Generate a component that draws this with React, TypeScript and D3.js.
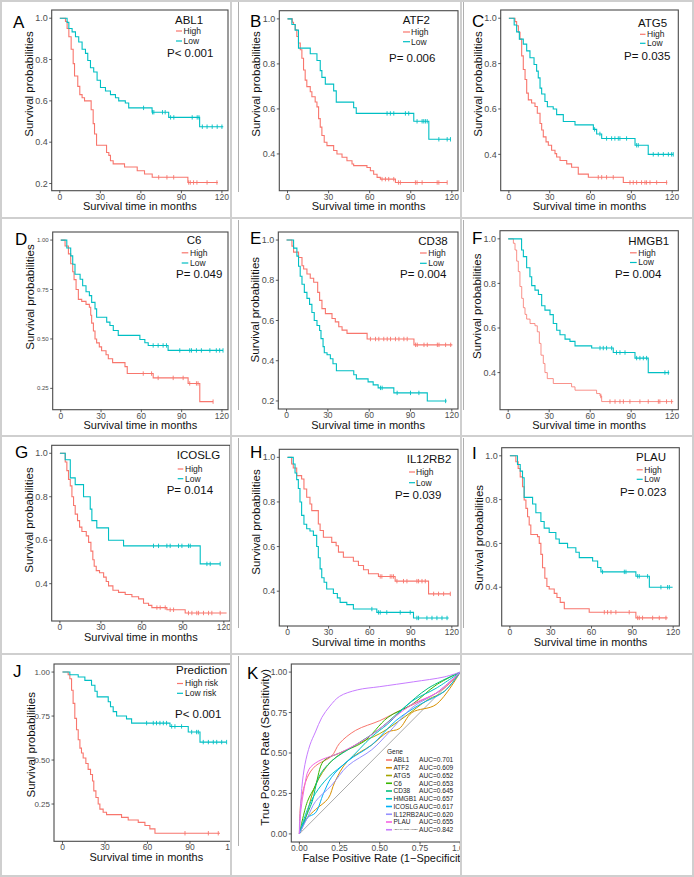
import React from 'react';
import * as d3 from 'd3';

type Pt = [number, number];

const RED = '#F8766D';
const TEAL = '#00BFC4';
const FONT = '"Liberation Sans", Arial, Helvetica, sans-serif';
const kmXTicks = [0, 30, 60, 90, 120];

// ---------- A: ABL1 ----------
const abl1High: Pt[] = [[0,1],[4.2,0.984],[5.4,0.95],[6.7,0.91],[8.4,0.85],[9.9,0.78],[10.9,0.72],[13.3,0.67],[14.8,0.63],[16.5,0.615],[18.3,0.6],[23.2,0.557],[24.7,0.49],[25.7,0.44],[27.2,0.385],[34.6,0.35],[36.3,0.336],[37.5,0.31],[39.5,0.295],[47.9,0.28],[57.3,0.262],[62.7,0.246],[68.4,0.23],[94.8,0.205],[117,0.205]];
const abl1HighCens = [73.2,79.3,84.3,95.4,96.6,99,101.5,109,116.3];
const abl1Low: Pt[] = [[0,1],[5.4,0.98],[6.7,0.95],[9.1,0.934],[11.6,0.91],[14,0.885],[16.5,0.85],[19,0.83],[20.7,0.795],[22.7,0.76],[25.1,0.74],[27.6,0.7],[30.1,0.665],[33.8,0.648],[37.5,0.63],[41.2,0.615],[43.6,0.6],[48.5,0.59],[51,0.566],[68.3,0.545],[80.6,0.52],[103.5,0.475],[121,0.475]];
const abl1LowCens = [62,68.6,69.6,76,78,82,84.4,98,101.7,103,105.5,109,112.8,116.5,120];

// ---------- B: ATF2 ----------
const atf2High: Pt[] = [[0,1],[3.5,0.985],[4.4,0.975],[5.6,0.952],[6.8,0.922],[8,0.893],[9.3,0.863],[10.5,0.825],[11.7,0.773],[12.9,0.728],[14.1,0.699],[16.6,0.676],[17.8,0.654],[20.2,0.631],[21.5,0.609],[22.7,0.557],[23.9,0.519],[25.1,0.482],[26.8,0.452],[28.8,0.437],[33.7,0.415],[36.1,0.4],[39.8,0.385],[43.4,0.37],[47.1,0.355],[48.3,0.348],[58,0.34],[60.5,0.325],[62.9,0.31],[65.4,0.296],[67.8,0.288],[78.8,0.273],[116.6,0.273]];
const atf2HighCens = [69,71.5,73.9,77.6,81,82.4,93.4,94.6,98.3,109.3,110.5,116.6];
const atf2Low: Pt[] = [[0,1],[3.2,0.975],[5.6,0.95],[8,0.87],[16.6,0.845],[21.5,0.815],[23.9,0.77],[25.1,0.74],[27.6,0.71],[33.7,0.68],[35.6,0.63],[48.3,0.605],[50.2,0.58],[92.2,0.545],[103.2,0.465],[119,0.465]];
const atf2LowCens = [72.7,75.1,77.6,86.1,88.5,94.6,98.3,99.5,100.7,102,110.5,116.6,119];

// ---------- C: ATG5 ----------
const atg5High: Pt[] = [[0,1],[4.5,0.985],[5.7,0.967],[7,0.938],[8.2,0.908],[9.4,0.834],[10.6,0.774],[11.9,0.73],[13.1,0.67],[14.3,0.64],[16.7,0.626],[19.2,0.611],[20.9,0.581],[22.9,0.536],[24.1,0.507],[25.3,0.477],[27.3,0.455],[29,0.44],[31.4,0.418],[33.9,0.403],[35.1,0.388],[37.6,0.373],[42.5,0.358],[46.1,0.343],[51,0.313],[58.4,0.299],[84.1,0.276],[116.4,0.276]];
const atg5HighCens = [65.7,68.2,71.8,76.7,89,91.4,93.9,97.5,100,101.2,103.7,108.6,115.9];
const atg5Low: Pt[] = [[0,1],[3.9,0.97],[5.7,0.94],[7.7,0.908],[10.6,0.886],[13.1,0.856],[15.5,0.826],[18.5,0.796],[20.4,0.767],[21.6,0.737],[22.9,0.692],[24.1,0.666],[26.5,0.633],[28.3,0.61],[32.6,0.6],[35.1,0.575],[40,0.545],[48.6,0.53],[62.1,0.51],[64.5,0.49],[68.2,0.47],[92.7,0.44],[102.4,0.4],[120.8,0.4]];
const atg5LowCens = [63,66.9,71.8,75.5,77.9,80.4,81.6,86.5,93.9,95.1,106.1,109.8,113.5,117.2,119.6,120.8];

// ---------- D: C6 ----------
const c6High: Pt[] = [[0,1],[3.2,0.97],[5.7,0.93],[7.4,0.88],[8.9,0.84],[9.9,0.8],[11.4,0.75],[13.1,0.7],[15.6,0.69],[18.8,0.675],[21.3,0.66],[22.3,0.62],[23,0.58],[24.3,0.54],[25.5,0.5],[26.7,0.48],[28.7,0.46],[30.4,0.44],[33.7,0.42],[35.4,0.4],[38.6,0.38],[47.8,0.36],[49.5,0.325],[68.8,0.303],[94.8,0.275],[103.5,0.183],[113.4,0.183]];
const c6HighCens = [61.4,67.6,72.5,83.7,91.1,96,101,102.2,113.4];
const c6Low: Pt[] = [[0,1],[4.5,0.96],[7.4,0.92],[8.9,0.878],[10.6,0.827],[14.4,0.802],[16.3,0.769],[18.8,0.739],[21.3,0.719],[23,0.685],[25.5,0.652],[26.7,0.61],[34.2,0.585],[36.6,0.568],[39.1,0.543],[42.8,0.518],[58.9,0.497],[62.6,0.481],[65.1,0.467],[79.9,0.442],[120.8,0.442]];
const c6LowCens = [68.8,72.5,76.2,78.7,88.6,96,97.3,101,104.7,111,115.8,118.3,120.8];

// ---------- E: CD38 ----------
const cd38High: Pt[] = [[0,1],[3.9,0.97],[5.1,0.94],[8.7,0.913],[11.2,0.872],[12.4,0.856],[14.8,0.831],[17.2,0.81],[19.7,0.79],[22.6,0.74],[24,0.7],[25.7,0.659],[28.2,0.634],[33,0.61],[35.4,0.593],[37.9,0.569],[40.3,0.552],[43.9,0.536],[58.5,0.508],[92.5,0.479],[120.4,0.479]];
const cd38HighCens = [60.9,64.6,67,70.6,73.1,75.5,79.1,81.6,85.2,87.6,93.7,94.9,99.8,102.2,109.5,110.7,115.5,119.2];
const cd38Low: Pt[] = [[0,1],[5.1,0.96],[7.5,0.92],[8.7,0.87],[9.9,0.82],[11.2,0.78],[12.9,0.74],[14.8,0.71],[16.7,0.68],[18.4,0.64],[20.1,0.6],[22.1,0.575],[24,0.55],[25,0.51],[26.5,0.47],[27.4,0.44],[29.4,0.43],[31.8,0.41],[33.7,0.385],[36.2,0.35],[48.8,0.33],[50.7,0.31],[59.2,0.295],[62.9,0.28],[66.5,0.265],[77.9,0.24],[102.2,0.2],[116.3,0.2]];
const cd38LowCens = [68.2,69.4,80.3,90,96.1,115.5];

// ---------- F: HMGB1 ----------
const hmgb1High: Pt[] = [[0,1],[3.8,0.98],[5,0.95],[6.2,0.9],[7.4,0.853],[8.6,0.786],[9.9,0.733],[11.1,0.691],[12.3,0.661],[13.5,0.64],[16,0.62],[19.6,0.61],[21.3,0.583],[22.8,0.531],[24,0.478],[25.7,0.441],[26.9,0.4],[28.6,0.373],[33,0.351],[46.4,0.336],[48.9,0.321],[64.7,0.306],[67.2,0.295],[68.4,0.27],[120.8,0.27]];
const hmgb1HighCens = [67.8,74.5,78.2,81.8,84.3,89.1,96.4,102.5,109.9,111,115.9,119.6];
const hmgb1Low: Pt[] = [[0,1],[9.8,0.95],[11.1,0.92],[13.5,0.87],[15.9,0.83],[17.2,0.79],[19.6,0.77],[22.1,0.75],[24.5,0.7],[26.9,0.68],[30.6,0.66],[33,0.62],[35.5,0.59],[37.9,0.57],[41.6,0.55],[45.2,0.54],[48.9,0.52],[61.1,0.51],[76.9,0.49],[92.8,0.465],[102.5,0.4],[117.9,0.4]];
const hmgb1LowCens = [67.2,69.6,72,75.7,79.3,81.8,85.5,94,96.4,98.9,101.3,114.7,117.2];

// ---------- G: ICOSLG ----------
const icoslgHigh: Pt[] = [[0,1],[3.9,0.96],[5.1,0.92],[6.3,0.88],[7.6,0.85],[8.8,0.8],[10,0.76],[11.2,0.72],[12.9,0.69],[14.4,0.66],[16.1,0.64],[19.3,0.62],[21,0.59],[22.7,0.55],[24.1,0.51],[25.1,0.48],[26.6,0.46],[29,0.45],[32,0.43],[33.9,0.41],[35.6,0.39],[38.8,0.37],[42.9,0.36],[47.8,0.35],[52.7,0.34],[57.6,0.33],[61.2,0.31],[64.9,0.3],[67.3,0.29],[78.3,0.28],[91.7,0.265],[122,0.265]];
const icoslgHighCens = [71,73.4,77.1,80.7,83.2,94.1,96.6,100.2,101.5,105.1,108.8,111.2,117.3];
const icoslgLow: Pt[] = [[0,1],[3.9,0.97],[7.6,0.887],[11.2,0.856],[17.3,0.8],[22.2,0.743],[23.4,0.69],[27,0.657],[35.6,0.6],[46.6,0.574],[102.7,0.491],[117.3,0.491]];
const icoslgLowCens = [68.5,72.2,78.3,80.7,86.8,89.3,94.1,95.4,107.6,110,117.3];

// ---------- H: IL12RB2 ----------
const il12High: Pt[] = [[0,1],[3,0.97],[4.2,0.952],[6.7,0.918],[10.3,0.903],[12,0.858],[14,0.821],[16.4,0.791],[17.7,0.761],[22.5,0.701],[23.8,0.672],[26.2,0.642],[32.3,0.619],[35.5,0.604],[37.2,0.575],[40.8,0.552],[48.1,0.534],[51.8,0.515],[55.5,0.496],[59.1,0.478],[66.4,0.466],[78.6,0.445],[103,0.388],[118.9,0.388]];
const il12HighCens = [67.7,68.9,75,76.2,77.4,79.9,84.7,87.2,94.5,95.7,98.2,100.6,106.7,110.3,114,118.9];
const il12Low: Pt[] = [[0,1],[4.2,0.97],[5.5,0.93],[6.7,0.9],[7.9,0.86],[9.1,0.8],[10.3,0.74],[12,0.7],[14,0.68],[16.4,0.67],[18.9,0.65],[21.3,0.6],[22.5,0.55],[23.8,0.5],[25,0.46],[26.7,0.44],[28.6,0.41],[33.5,0.39],[36.4,0.37],[38.4,0.35],[43.3,0.34],[48.1,0.32],[65.2,0.305],[92,0.28],[117.7,0.28]];
const il12LowCens = [61.6,66.4,67.7,72.5,82.3,89.6,94.5,95.7,101.8,105.5,109.1,112.8,116.5];

// ---------- I: PLAU ----------
const plauHigh: Pt[] = [[0,1],[4.4,0.973],[6.1,0.942],[7.6,0.904],[9.3,0.859],[10.5,0.798],[11.8,0.76],[13,0.722],[14.2,0.684],[15.4,0.641],[20.3,0.631],[21.6,0.6],[22.8,0.55],[24,0.489],[25.7,0.441],[27.2,0.403],[28.9,0.392],[32.6,0.372],[34.6,0.353],[37,0.331],[40,0.302],[58.3,0.286],[92.6,0.26],[115.9,0.26]];
const plauHighCens = [69.4,71.8,74.3,77.9,87.7,93.9,95.1,97.5,104.9,109.8,114.7];
const plauLow: Pt[] = [[0,1],[5.6,0.96],[7.6,0.93],[9.3,0.9],[10.5,0.81],[16.7,0.78],[19.1,0.74],[22.8,0.7],[25.2,0.67],[28.9,0.65],[33.8,0.62],[36.3,0.6],[42.4,0.58],[48.5,0.56],[51,0.535],[60.8,0.52],[64.5,0.49],[66.9,0.47],[92.6,0.45],[102.5,0.4],[119.6,0.4]];
const plauLowCens = [68.1,84.1,85.3,93.9,95.1,101.2,111,115.9,117.2];

// ---------- J: Prediction ----------
const predHigh: Pt[] = [[0,1],[4,0.985],[5.2,0.962],[6.4,0.897],[7.5,0.822],[8.7,0.737],[9.9,0.672],[11.1,0.615],[12.3,0.568],[13.4,0.54],[14.6,0.512],[16.5,0.48],[18.1,0.447],[19.8,0.418],[21.2,0.381],[22.1,0.325],[23.6,0.287],[25.2,0.25],[26.4,0.221],[28.7,0.203],[31.1,0.19],[41.7,0.174],[46.4,0.159],[53.5,0.146],[58.2,0.128],[61.7,0.109],[65.3,0.084],[111.2,0.084]];
const predHighCens = [86.5,103,110];
const predLow: Pt[] = [[0,1],[5.2,0.985],[11.1,0.972],[15.8,0.953],[20.5,0.925],[22.9,0.891],[24.5,0.859],[32.3,0.831],[33.9,0.803],[35.8,0.775],[38.2,0.75],[45.2,0.734],[48.8,0.71],[75.9,0.691],[88.8,0.659],[97.1,0.602],[115.9,0.602]];
const predLowCens = [59.4,64.1,66.4,68.8,71.2,73.5,77.1,79.4,84.1,91.2,94.7,95.9,99.4,103,106.5,108.9,112.4,115.9];

// ---------- K: ROC ----------
const rocGenes = ['ABL1','ATF2','ATG5','C6','CD38','HMGB1','ICOSLG','IL12RB2','PLAU','ABL1+C6+CD38+HMGB1'];
const rocAUC = ['0.701','0.609','0.652','0.653','0.645','0.657','0.617','0.620','0.655','0.842'];
const rocColors = ['#F8766D','#D89000','#A3A500','#39B600','#00BF7D','#00BFC4','#00B0F6','#9590FF','#F564E3','#C77CFF'];
const rocABL1: Pt[] = [[0,0],[0.01,0.2],[0.05,0.35],[0.1,0.42],[0.2,0.48],[0.25,0.56],[0.35,0.64],[0.5,0.7],[0.6,0.75],[0.75,0.82],[0.9,0.9],[1,1]];
const rocATF2: Pt[] = [[0,0],[0.05,0.1],[0.1,0.15],[0.18,0.22],[0.22,0.32],[0.3,0.45],[0.45,0.55],[0.55,0.63],[0.62,0.65],[0.7,0.75],[0.85,0.8],[1,1]];
const rocATG5: Pt[] = [[0,0],[0.04,0.1],[0.1,0.3],[0.2,0.45],[0.35,0.55],[0.5,0.62],[0.65,0.72],[0.8,0.83],[0.9,0.88],[1,1]];
const rocC6: Pt[] = [[0,0],[0.05,0.2],[0.1,0.3],[0.15,0.45],[0.25,0.5],[0.4,0.57],[0.55,0.72],[0.7,0.8],[0.85,0.92],[1,1]];
const rocCD38: Pt[] = [[0,0],[0.03,0.08],[0.08,0.2],[0.12,0.35],[0.2,0.45],[0.35,0.55],[0.5,0.65],[0.65,0.78],[0.8,0.9],[1,1]];
const rocHMGB1: Pt[] = [[0,0],[0.05,0.15],[0.1,0.25],[0.18,0.35],[0.3,0.45],[0.45,0.6],[0.55,0.68],[0.7,0.82],[0.85,0.9],[1,1]];
const rocICOSLG: Pt[] = [[0,0],[0.05,0.1],[0.1,0.13],[0.15,0.25],[0.2,0.35],[0.3,0.45],[0.45,0.55],[0.6,0.7],[0.75,0.8],[0.9,0.88],[1,1]];
const rocIL12RB2: Pt[] = [[0,0],[0.05,0.1],[0.1,0.2],[0.2,0.3],[0.3,0.42],[0.45,0.52],[0.55,0.62],[0.7,0.78],[0.85,0.87],[1,1]];
const rocPLAU: Pt[] = [[0,0],[0.01,0.15],[0.03,0.28],[0.06,0.4],[0.12,0.45],[0.25,0.5],[0.4,0.58],[0.5,0.65],[0.7,0.8],[0.85,0.87],[1,1]];
const rocCombined: Pt[] = [[0,0],[0.015,0.28],[0.035,0.43],[0.066,0.55],[0.1,0.63],[0.14,0.72],[0.19,0.79],[0.25,0.85],[0.36,0.89],[0.5,0.91],[0.71,0.94],[0.9,0.97],[1,1]];
const rocCurves = [rocABL1, rocATF2, rocATG5, rocC6, rocCD38, rocHMGB1, rocICOSLG, rocIL12RB2, rocPLAU, rocCombined];
const rocTicks = [0, 0.25, 0.5, 0.75, 1];

// ---------- layout ----------
const W = 694, H = 877;
const colX = [0, 231, 461, 694];
const rowY = [0, 218, 436, 654, 877];

interface Curve { steps: Pt[]; cens: number[]; color: string; width: number }
interface KMConf {
  id: string; cell: [number, number]; box: [number, number, number, number];
  letter: string; letterPos: [number, number];
  yTicks: number[]; yFmt: string; yTickSize: number; yTitleY: number;
  title: string; titlePos: [number, number];
  itemY: [number, number]; itemLineX: [number, number]; itemTextX: number;
  labels: [string, string];
  pText: string; pPos: [number, number];
  curves: Curve[];
}

const t02 = [0.2, 0.4, 0.6, 0.8, 1.0];
const t04 = [0.4, 0.6, 0.8, 1.0];
const t25 = [0.25, 0.5, 0.75, 1.0];
const hl: [string, string] = ['High', 'Low'];
const mk = (hi: Pt[], hc: number[], lo: Pt[], lc: number[], w = 1.1): Curve[] => [
  { steps: hi, cens: hc, color: RED, width: w },
  { steps: lo, cens: lc, color: TEAL, width: 1.1 },
];

const panels: KMConf[] = [
  { id: 'A', cell: [0, 0], box: [51.7, 10, 228, 190.7], letter: 'A', letterPos: [13, 28], yTicks: t02, yFmt: '.1f', yTickSize: 9, yTitleY: 84,
    title: 'ABL1', titlePos: [175, 24], itemY: [31, 41], itemLineX: [176, 182], itemTextX: 183.5, labels: hl, pText: 'P< 0.001', pPos: [167, 57],
    curves: mk(abl1High, abl1HighCens, abl1Low, abl1LowCens) },
  { id: 'B', cell: [1, 0], box: [279.3, 10.7, 458, 190.7], letter: 'B', letterPos: [250, 27], yTicks: t04, yFmt: '.1f', yTickSize: 9, yTitleY: 84,
    title: 'ATF2', titlePos: [402.7, 24], itemY: [32, 41.7], itemLineX: [403, 410], itemTextX: 411, labels: hl, pText: 'P= 0.006', pPos: [389, 61.7],
    curves: mk(atf2High, atf2HighCens, atf2Low, atf2LowCens) },
  { id: 'C', cell: [2, 0], box: [500.7, 10, 678.3, 190.7], letter: 'C', letterPos: [472, 27], yTicks: t04, yFmt: '.1f', yTickSize: 9, yTitleY: 84,
    title: 'ATG5', titlePos: [638, 26.7], itemY: [34.3, 43.3], itemLineX: [640, 645.5], itemTextX: 647, labels: hl, pText: 'P= 0.035', pPos: [624, 60],
    curves: mk(atg5High, atg5HighCens, atg5Low, atg5LowCens) },
  { id: 'D', cell: [0, 1], box: [52.7, 232, 228, 409.7], letter: 'D', letterPos: [15, 245], yTicks: t25, yFmt: '.2f', yTickSize: 6, yTitleY: 297,
    title: 'C6', titlePos: [186.7, 244], itemY: [252.8, 263], itemLineX: [181.7, 188.3], itemTextX: 190, labels: hl, pText: 'P= 0.049', pPos: [176, 278],
    curves: mk(c6High, c6HighCens, c6Low, c6LowCens) },
  { id: 'E', cell: [1, 1], box: [278.3, 232, 458, 409], letter: 'E', letterPos: [250, 244], yTicks: t02, yFmt: '.1f', yTickSize: 9, yTitleY: 309.7,
    title: 'CD38', titlePos: [418.3, 244.7], itemY: [253, 263.3], itemLineX: [420, 426.7], itemTextX: 428.3, labels: hl, pText: 'P= 0.004', pPos: [400, 278],
    curves: mk(cd38High, cd38HighCens, cd38Low, cd38LowCens) },
  { id: 'F', cell: [2, 1], box: [500, 230.7, 678.3, 409.7], letter: 'F', letterPos: [472, 244], yTicks: t04, yFmt: '.1f', yTickSize: 9, yTitleY: 306.3,
    title: 'HMGB1', titlePos: [628.3, 244.7], itemY: [252.8, 262.5], itemLineX: [630, 636.7], itemTextX: 638.3, labels: hl, pText: 'P= 0.004', pPos: [615, 278],
    curves: mk(hmgb1High, hmgb1HighCens, hmgb1Low, hmgb1LowCens, 0.8) },
  { id: 'G', cell: [0, 2], box: [51.7, 445.3, 230, 621], letter: 'G', letterPos: [15, 458], yTicks: t04, yFmt: '.1f', yTickSize: 9, yTitleY: 520,
    title: 'ICOSLG', titlePos: [176.7, 459.3], itemY: [469, 478.7], itemLineX: [177.7, 183.3], itemTextX: 185, labels: hl, pText: 'P= 0.014', pPos: [166.7, 494.3],
    curves: mk(icoslgHigh, icoslgHighCens, icoslgLow, icoslgLowCens) },
  { id: 'H', cell: [1, 2], box: [279.3, 449.3, 458, 626], letter: 'H', letterPos: [250, 458], yTicks: t04, yFmt: '.1f', yTickSize: 9, yTitleY: 522,
    title: 'IL12RB2', titlePos: [406.7, 462.7], itemY: [472, 482.7], itemLineX: [409, 415], itemTextX: 416, labels: hl, pText: 'P= 0.039', pPos: [395, 499.3],
    curves: mk(il12High, il12HighCens, il12Low, il12LowCens) },
  { id: 'I', cell: [2, 2], box: [501.7, 447.7, 679.3, 626], letter: 'I', letterPos: [472, 459], yTicks: t04, yFmt: '.1f', yTickSize: 9, yTitleY: 537.7,
    title: 'PLAU', titlePos: [636, 461], itemY: [469.8, 479.3], itemLineX: [636.7, 642.7], itemTextX: 644.3, labels: hl, pText: 'P= 0.023', pPos: [620, 496],
    curves: mk(plauHigh, plauHighCens, plauLow, plauLowCens) },
  { id: 'J', cell: [0, 3], box: [54, 664, 238.8, 841.3], letter: 'J', letterPos: [13, 677], yTicks: t25, yFmt: '.2f', yTickSize: 8, yTitleY: 744.8,
    title: 'Prediction', titlePos: [176, 674], itemY: [683.5, 693.3], itemLineX: [177, 183], itemTextX: 185, labels: ['High risk', 'Low risk'], pText: 'P< 0.001', pPos: [175, 718],
    curves: mk(predHigh, predHighCens, predLow, predLowCens) },
];

function survAt(steps: Pt[], t: number): number {
  let s = 1;
  for (const [tt, v] of steps) if (tt <= t) s = v;
  return s;
}

function cellRect(c: [number, number]) {
  return { x: colX[c[0]], y: rowY[c[1]], w: colX[c[0] + 1] - colX[c[0]], h: rowY[c[1] + 1] - rowY[c[1]] };
}

function KM({ c }: { c: KMConf }) {
  const [l, t, r, b] = c.box;
  const x = d3.scaleLinear().domain([-6, 124.5]).range([l, r]);
  const all = c.curves.flatMap(cv => cv.steps.map(s => s[1]));
  const mn = d3.min(all) as number;
  const pad = 0.05 * (1 - mn);
  const y = d3.scaleLinear().domain([mn - pad, 1 + pad]).range([b, t]);
  const line = d3.line<Pt>().x(d => x(d[0])).y(d => y(d[1])).curve(d3.curveStepAfter);
  const fmt = d3.format(c.yFmt);
  const cr = cellRect(c.cell);
  const clipId = 'clip' + c.id;
  return (
    <g>
      <clipPath id={clipId}><rect x={cr.x} y={cr.y} width={cr.w} height={cr.h} /></clipPath>
      <g clipPath={`url(#${clipId})`} fontFamily={FONT}>
        {c.curves.map((cv, i) => (
          <g key={i}>
            <path d={line(cv.steps) || ''} fill="none" stroke={cv.color} strokeWidth={cv.width} />
            {cv.cens.map((tc, j) => {
              const yy = y(survAt(cv.steps, tc));
              return <line key={j} x1={x(tc)} x2={x(tc)} y1={yy - 2.2} y2={yy + 2.2} stroke={cv.color} strokeWidth={0.9} />;
            })}
          </g>
        ))}
        <rect x={l} y={t} width={r - l} height={b - t} fill="none" stroke="#4a4a4a" strokeWidth={1.1} />
        {c.yTicks.map(v => (
          <g key={'y' + v}>
            <line x1={l - 2.5} x2={l} y1={y(v)} y2={y(v)} stroke="#333" strokeWidth={0.8} />
            <text x={l - 4} y={y(v)} dy="0.35em" textAnchor="end" fontSize={c.yTickSize} fill="#4d4d4d">{fmt(v)}</text>
          </g>
        ))}
        {kmXTicks.map(v => (
          <g key={'x' + v}>
            <line x1={x(v)} x2={x(v)} y1={b} y2={b + 2.5} stroke="#333" strokeWidth={0.8} />
            <text x={x(v)} y={b + 9} textAnchor="middle" fontSize={8.5} fill="#4d4d4d">{v}</text>
          </g>
        ))}
        <text x={(l + r) / 2} y={b + 19.5} textAnchor="middle" fontSize={11} fill="#111">Survival time in months</text>
        <text transform={`translate(${l - 19},${c.yTitleY}) rotate(-90)`} textAnchor="middle" fontSize={11.5} fill="#111">Survival probabilities</text>
        <text x={c.letterPos[0]} y={c.letterPos[1]} fontSize={17} fill="#000">{c.letter}</text>
        <text x={c.titlePos[0]} y={c.titlePos[1]} fontSize={11.5} fill="#111">{c.title}</text>
        {c.labels.map((lab, i) => (
          <g key={lab}>
            <line x1={c.itemLineX[0]} x2={c.itemLineX[1]} y1={c.itemY[i]} y2={c.itemY[i]} stroke={c.curves[i].color} strokeWidth={1.2} />
            <text x={c.itemTextX} y={c.itemY[i]} dy="0.35em" fontSize={8.5} fill="#222">{lab}</text>
          </g>
        ))}
        <text x={c.pPos[0]} y={c.pPos[1]} fontSize={11.5} fill="#111">{c.pText}</text>
      </g>
    </g>
  );
}

function ROC() {
  const [l, t, r, b] = [291.3, 664, 468.3, 842];
  const x = d3.scaleLinear().domain([-0.05, 1.05]).range([l, r]);
  const y = d3.scaleLinear().domain([-0.05, 1.05]).range([b, t]);
  const line = d3.line<Pt>().x(d => x(d[0])).y(d => y(d[1])).curve(d3.curveCatmullRom.alpha(0.5));
  const fmt = d3.format('.2f');
  const cr = cellRect([1, 3]);
  const legX = 386, legY0 = 760, legDy = 7.75;
  return (
    <g>
      <clipPath id="clipK"><rect x={cr.x} y={cr.y} width={cr.w} height={cr.h} /></clipPath>
      <g clipPath="url(#clipK)" fontFamily={FONT}>
        <line x1={x(0)} y1={y(0)} x2={x(1)} y2={y(1)} stroke="#aaaaaa" strokeWidth={1} />
        {rocCurves.map((cv, i) => (
          <path key={i} d={line(cv) || ''} fill="none" stroke={rocColors[i]} strokeWidth={1} />
        ))}
        <rect x={l} y={t} width={r - l} height={b - t} fill="none" stroke="#4a4a4a" strokeWidth={1.1} />
        {rocTicks.map(v => (
          <g key={'y' + v}>
            <line x1={l - 2.5} x2={l} y1={y(v)} y2={y(v)} stroke="#333" strokeWidth={0.8} />
            <text x={l - 4} y={y(v)} dy="0.35em" textAnchor="end" fontSize={8.5} fill="#4d4d4d">{fmt(v)}</text>
            <line x1={x(v)} x2={x(v)} y1={b} y2={b + 2.5} stroke="#333" strokeWidth={0.8} />
            <text x={x(v)} y={b + 9} textAnchor="middle" fontSize={8.5} fill="#4d4d4d">{fmt(v)}</text>
          </g>
        ))}
        <text x={386} y={b + 20} textAnchor="middle" fontSize={11} fill="#111">False Positive Rate (1−Specificity)</text>
        <text transform={`translate(${l - 22},747.3) rotate(-90)`} textAnchor="middle" fontSize={11.5} fill="#111">True Positive Rate (Sensitivity)</text>
        <text x={247} y={679} fontSize={17} fill="#000">K</text>
        <text x={legX + 1} y={752} dy="0.35em" fontSize={6.5} fill="#222">Gene</text>
        {rocGenes.map((g, i) => {
          const yy = legY0 + i * legDy;
          return (
            <g key={g}>
              <line x1={legX} x2={legX + 6} y1={yy} y2={yy} stroke={rocColors[i]} strokeWidth={1.6} />
              <text x={legX + 7.5} y={yy} dy="0.35em" fontSize={i === 9 ? 2.1 : 6.5} fill="#222">{g}</text>
              <text x={419} y={yy} dy="0.35em" fontSize={6.6} fill="#222">{'AUC=' + rocAUC[i]}</text>
            </g>
          );
        })}
      </g>
    </g>
  );
}

export default function App() {
  const sep = '#cfcfcf';
  return (
    <div style={{ position: 'absolute', left: 0, top: 0 }}>
      <svg width={W} height={H} viewBox={`0 0 ${W} ${H}`} style={{ display: 'block', background: '#fff' }}>
        <rect x={0} y={0} width={W} height={H} fill="#fff" />
        {panels.map(p => <KM key={p.id} c={p} />)}
        <ROC />
        {[0, 1, 2, 3].map(r => (
          <g key={'sl' + r}>
            <line x1={238.5} x2={238.5} y1={rowY[r] + 2} y2={rowY[r] + 192} stroke="#9a9a9a" strokeWidth={0.8} />
            {r < 3 && <line x1={463.5} x2={463.5} y1={rowY[r] + 2} y2={rowY[r] + 192} stroke="#9a9a9a" strokeWidth={0.8} />}
          </g>
        ))}
        <rect x={1} y={1} width={W - 2} height={H - 2} fill="none" stroke={sep} strokeWidth={2} />
        {colX.slice(1, 3).map(cx => <line key={cx} x1={cx} x2={cx} y1={0} y2={H} stroke={sep} strokeWidth={2} />)}
        {rowY.slice(1, 4).map(ry => <line key={ry} x1={0} x2={W} y1={ry} y2={ry} stroke={sep} strokeWidth={2} />)}
      </svg>
    </div>
  );
}
